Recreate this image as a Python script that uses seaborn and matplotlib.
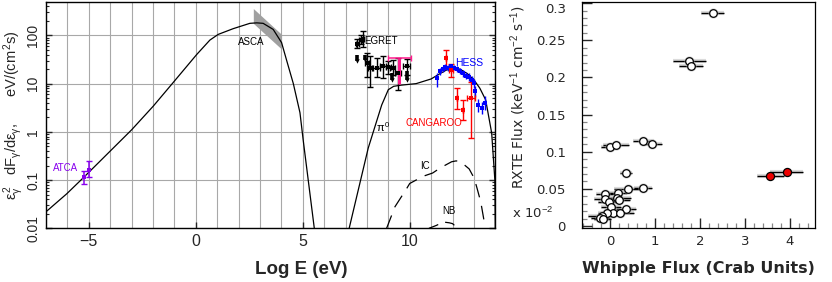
import numpy as np
import matplotlib
matplotlib.use('Agg')
import matplotlib.pyplot as plt
import seaborn as sns
from matplotlib.ticker import MultipleLocator, FixedLocator, LogLocator, NullFormatter

# ---------------------------------------------------------------
# LEFT PANEL DATA: broad-band SED (log E in eV vs E^2 dF/dE)
# ---------------------------------------------------------------
sync_x = [-7.0, -6.03, -5.21, -3.0, -1.99, -1.02, 0.04, 0.66, 1.05, 1.75,
          2.53, 2.85, 3.15, 3.62, 4.01, 4.28, 4.56, 4.87, 5.02, 5.54]
sync_y = [0.022, 0.052, 0.117, 1.1, 3.4, 11, 40, 80, 105, 138,
          178, 182, 178, 133, 71, 27, 10, 2.5, 0.68, 0.01]

pion_x = [7.17, 8.06, 8.69, 9.0, 9.25, 9.6, 10.3, 11.0, 11.35, 11.7, 12.0,
          12.35, 12.7, 13.0, 13.28, 13.55, 13.83, 13.98, 14.0]
pion_y = [0.01, 0.46, 3.6, 7.5, 8.8, 9.3, 10.0, 12.5, 15.5, 19, 20.5,
          20, 16, 12, 8, 4.6, 0.95, 0.1, 0.01]

ic_x = [8.92, 9.31, 9.86, 10.0, 10.63, 11.07, 11.44, 11.96, 12.17, 12.38,
        12.78, 13.01, 13.15, 13.28, 13.36, 13.47, 13.5]
ic_y = [0.01, 0.028, 0.067, 0.085, 0.12, 0.14, 0.18, 0.24, 0.25, 0.24,
        0.17, 0.11, 0.067, 0.041, 0.028, 0.0147, 0.01]

nb_x = [10.9, 11.25, 11.57, 11.85, 12.0, 12.3]
nb_y = [0.01, 0.0115, 0.0135, 0.013, 0.0125, 0.0095]

asca_x = [2.69, 4.01]
asca_lo = [178, 52]
asca_hi = [361, 105]

atca_x = [-5.21, -4.99]
atca_y = [0.117, 0.162]
atca_lo = [0.083, 0.117]
atca_hi = [0.155, 0.25]

egret_x = [7.55, 7.70, 7.80, 8.00, 8.15, 8.45, 8.75, 9.00, 9.20, 9.45, 9.85]
egret_y = [67, 80, 83, 27, 21, 21, 23, 22, 21, 16.5, 23]
egret_lo = [55, 65, 58, 14, 8.7, 14, 13, 16, 15, 7.5, 15]
egret_hi = [83, 100, 123, 44, 37, 34, 37, 30, 31, 34, 33]
egret_xerr = [0.08, 0.08, 0.08, 0.1, 0.1, 0.15, 0.15, 0.12, 0.12, 0.15, 0.15]

# EGRET upper limits (short thick bars)
egret_ul_x = [7.55, 7.91, 9.16, 9.86]
egret_ul_top = [40, 40, 16.6, 18]
egret_ul_bot = [30, 31, 12, 12]

pink_x = [9.52]
pink_y = [15]
pink_lo = [9.6]
pink_hi = [34]
pink_bar_x = [9.0, 10.05]
pink_bar_y = [34, 34]

hess_x = [11.29, 11.41, 11.54, 11.64, 11.8, 11.91, 12.07, 12.22, 12.35,
          12.5, 12.63, 12.78, 12.89, 13.0, 13.05, 13.2, 13.36, 13.51]
hess_y = [13.2, 18.3, 20.5, 22.5, 21.5, 23, 21.6, 20.3, 18,
          16.3, 14.7, 13.8, 12, 10.2, 6.9, 3.6, 3.1, 4.0]
hess_lo = [8.7, 15, 17.5, 19.5, 18.5, 20, 19, 17.5, 15.5,
           14, 12.5, 11.5, 9.8, 8.2, 5.2, 2.6, 2.3, 2.9]
hess_hi = [16.6, 21.5, 23.5, 25.5, 24.5, 26, 24.5, 23, 21,
           19, 17.3, 16.4, 14.5, 12.5, 9, 4.8, 4.1, 5.5]

cang_x = [11.69, 11.93, 12.19, 12.5, 12.87]
cang_y = [34, 19, 5, 2.9, 5]
cang_lo = [21, 14, 3, 1.8, 0.75]
cang_hi = [51, 26, 8, 4.6, 11]
cang_xerr = [0.0, 0.08, 0.0, 0.0, 0.18]

left_yticks = [0.01, 0.1, 1, 10, 100]
left_ylabels = ['0.01', '0.1', '1', '10', '100']
left_xticks = [-5, 0, 5, 10]

# ---------------------------------------------------------------
# RIGHT PANEL DATA: RXTE flux vs Whipple flux
# ---------------------------------------------------------------
whip_x = [2.28, 1.76, 1.80, 0.0, 0.13, 0.74, 0.93, 0.35, 0.39, 0.74,
          -0.12, -0.12, -0.02, 0.18, 0.16, 0.19, 0.02, 0.35, 0.07, 0.23,
          -0.08, -0.19, -0.22, -0.17]
whip_xerr = [0.26, 0.37, 0.26, 0.2, 0.3, 0.24, 0.23, 0.13, 0.3, 0.2,
             0.2, 0.25, 0.25, 0.2, 0.3, 0.25, 0.22, 0.22, 0.25, 0.3,
             0.2, 0.3, 0.2, 0.2]
rxte_y = [0.287, 0.222, 0.215, 0.107, 0.109, 0.114, 0.111, 0.072, 0.050, 0.051,
          0.043, 0.036, 0.033, 0.044, 0.038, 0.035, 0.025, 0.023, 0.018, 0.017,
          0.017, 0.014, 0.011, 0.010]

flare_x = [3.56, 3.93]
flare_xerr = [0.3, 0.37]
flare_y = [0.068, 0.073]

right_yticks = [0, 0.05, 0.1, 0.15, 0.2, 0.25, 0.3]
right_ylabels = ['0', '0.05', '0.1', '0.15', '0.2', '0.25', '0.3']
right_xticks = [0, 1, 2, 3, 4]

# ---------------------------------------------------------------
sns.set_style('ticks')
plt.rcParams['font.family'] = ['Liberation Sans', 'DejaVu Sans']
plt.rcParams['mathtext.fontset'] = 'custom'
plt.rcParams['mathtext.rm'] = 'Liberation Sans'
plt.rcParams['mathtext.it'] = 'Liberation Sans'
plt.rcParams['mathtext.bf'] = 'Liberation Sans:bold'

PURPLE = '#8800ee'
BLUE = '#0000ff'
RED = '#ff0000'
PINK = '#ff1a8c'
GRID = '#a8a8a8'

fig = plt.figure(figsize=(8.32, 2.82), dpi=100)
ax1 = fig.add_axes([46 / 832, 1 - 228.3 / 282, 449.3 / 832, 226.6 / 282])
ax2 = fig.add_axes([582.3 / 832, 1 - 228.3 / 282, 232.7 / 832, 226.6 / 282])

# ---------------- left panel ----------------
ax1.set_yscale('log')
ax1.set_xlim(-7, 14)
ax1.set_ylim(0.01, 500)
ax1.set_axisbelow(True)
ax1.xaxis.set_major_locator(FixedLocator(left_xticks))
ax1.xaxis.set_minor_locator(MultipleLocator(1))
ax1.yaxis.set_major_locator(FixedLocator(left_yticks))
ax1.yaxis.set_minor_locator(LogLocator(base=10, subs=np.arange(2, 10)))
ax1.yaxis.set_minor_formatter(NullFormatter())
ax1.set_yticklabels(left_ylabels)
ax1.grid(True, which='both', axis='x', color=GRID, lw=0.8)
ax1.grid(True, which='major', axis='y', color=GRID, lw=0.8)

ax1.fill_between(asca_x, asca_lo, asca_hi, color='#a0a0a0', lw=0, zorder=2)

sns.lineplot(x=sync_x, y=sync_y, ax=ax1, color='black', lw=0.9, sort=False, estimator=None, zorder=3)
sns.lineplot(x=pion_x, y=pion_y, ax=ax1, color='black', lw=0.9, sort=False, estimator=None, zorder=3)
sns.lineplot(x=ic_x, y=ic_y, ax=ax1, color='black', lw=0.9, sort=False, estimator=None,
             linestyle=(0, (11, 7)), zorder=3)
sns.lineplot(x=nb_x, y=nb_y, ax=ax1, color='black', lw=0.9, sort=False, estimator=None,
             linestyle=(0, (8, 6)), zorder=3)

# ATCA
ax1.errorbar(atca_x, atca_y, yerr=[np.subtract(atca_y, atca_lo), np.subtract(atca_hi, atca_y)],
             fmt='none', ecolor=PURPLE, elinewidth=1.1, capsize=2.2, zorder=4)
sns.scatterplot(x=atca_x, y=atca_y, ax=ax1, color=PURPLE, marker='s', s=5, linewidth=0, zorder=5)

# EGRET
ax1.errorbar(egret_x, egret_y, yerr=[np.subtract(egret_y, egret_lo), np.subtract(egret_hi, egret_y)],
             xerr=egret_xerr, fmt='none', ecolor='black', elinewidth=1.0, capsize=2.2, zorder=4)
ax1.vlines(egret_ul_x, egret_ul_bot, egret_ul_top, color='black', lw=2.6, zorder=4)
sns.scatterplot(x=egret_ul_x, y=egret_ul_bot, ax=ax1, color='black', marker='v', s=10, linewidth=0, zorder=5)
sns.scatterplot(x=egret_x, y=egret_y, ax=ax1, color='black', marker='s', s=5, linewidth=0, zorder=5)

ax1.errorbar(pink_x, pink_y, yerr=[np.subtract(pink_y, pink_lo), np.subtract(pink_hi, pink_y)],
             fmt='none', ecolor=PINK, elinewidth=2.2, capsize=0, zorder=4)
ax1.errorbar([np.mean(pink_bar_x)], [pink_bar_y[0]], xerr=[(pink_bar_x[1] - pink_bar_x[0]) / 2],
             fmt='none', ecolor=PINK, elinewidth=1.1, capsize=2.5, zorder=4)

# HESS
ax1.errorbar(hess_x, hess_y, yerr=[np.subtract(hess_y, hess_lo), np.subtract(hess_hi, hess_y)],
             fmt='none', ecolor=BLUE, elinewidth=1.0, capsize=0, zorder=4)
sns.scatterplot(x=hess_x, y=hess_y, ax=ax1, color=BLUE, marker='s', s=9, linewidth=0, zorder=5)

# CANGAROO
ax1.errorbar(cang_x, cang_y, yerr=[np.subtract(cang_y, cang_lo), np.subtract(cang_hi, cang_y)],
             xerr=cang_xerr, fmt='none', ecolor=RED, elinewidth=1.0, capsize=2.2, zorder=4)
sns.scatterplot(x=cang_x, y=cang_y, ax=ax1, color=RED, marker='s', s=5, linewidth=0, zorder=5)

lab = dict(fontsize=7, ha='center', va='center', zorder=6)
ax1.text(-6.08, 0.18, 'ATCA', color=PURPLE, **lab)
ax1.text(2.57, 74, 'ASCA', color='black', **lab)
ax1.text(8.65, 76, 'EGRET', color='black', **lab)
ax1.text(8.75, 1.25, r'$\pi^{0}$', color='black', fontsize=8, ha='center', va='center')
ax1.text(12.8, 27, 'HESS', color=BLUE, fontsize=7.5, ha='center', va='center', zorder=6)
ax1.text(11.13, 1.5, 'CANGAROO', color=RED, **lab)
ax1.text(10.69, 0.195, 'IC', color='black', **lab)
ax1.text(11.84, 0.023, 'NB', color='black', **lab)

ax1.tick_params(axis='both', which='major', direction='in', length=4, width=1,
                right=True, top=False, labelsize=11.5, pad=4)
ax1.tick_params(axis='y', which='minor', direction='in', length=2.2, width=0.8, right=True)
ax1.tick_params(axis='x', which='minor', length=0)
for t in ax1.get_yticklabels():
    t.set_rotation(90)
    t.set_va('center')
    t.set_fontsize(10)
for s in ax1.spines.values():
    s.set_linewidth(1.0)
    s.set_color('black')

ax1.set_xlabel('Log E (eV)', fontsize=13.5, fontweight='bold')
ax1.xaxis.set_label_coords(0.569, -0.145)
ax1.set_ylabel(r'$\varepsilon_{\gamma}^{2}\ \ \ dF_{\gamma}/d\varepsilon_{\gamma},\ \ \ \ \ \ eV/(cm^{2}s)$',
               fontsize=10.5)
ax1.yaxis.set_label_coords(-0.044, 0.5)

# ---------------- right panel ----------------
ax2.set_xlim(-0.62, 4.56)
ax2.set_ylim(-0.003, 0.302)

# soft grey halo under the marks
ax2.errorbar(whip_x, rxte_y, xerr=whip_xerr, fmt='none', ecolor='#9a9a9a', elinewidth=3, alpha=0.35, zorder=2)
ax2.errorbar(flare_x, flare_y, xerr=flare_xerr, fmt='none', ecolor='#9a9a9a', elinewidth=3, alpha=0.35, zorder=2)
ax2.errorbar(whip_x, rxte_y, xerr=whip_xerr, fmt='none', ecolor='black', elinewidth=1.0, capsize=0, zorder=3)
ax2.errorbar(flare_x, flare_y, xerr=flare_xerr, fmt='none', ecolor='black', elinewidth=1.0, capsize=0, zorder=3)
sns.scatterplot(x=whip_x, y=rxte_y, ax=ax2, s=55, color='#b0b0b0', alpha=0.5, linewidth=0, zorder=3.5)
sns.scatterplot(x=whip_x, y=rxte_y, ax=ax2, s=30, color='white', edgecolor='black', linewidth=0.9, zorder=4)
sns.scatterplot(x=flare_x, y=flare_y, ax=ax2, s=34, color='#ee0000', edgecolor='black', linewidth=0.9, zorder=4)

ax2.xaxis.set_major_locator(FixedLocator(right_xticks))
ax2.xaxis.set_minor_locator(MultipleLocator(0.2))
ax2.yaxis.set_major_locator(FixedLocator(right_yticks))
ax2.yaxis.set_minor_locator(MultipleLocator(0.01))
ax2.set_yticklabels(right_ylabels)
ax2.set_xticklabels([str(v) for v in right_xticks])
ax2.tick_params(axis='both', which='major', direction='in', length=7, width=1,
                top=False, right=False, labelsize=9.5)
ax2.tick_params(axis='y', which='major', pad=12)
ax2.tick_params(axis='x', which='major', pad=5)
ax2.tick_params(axis='both', which='minor', direction='in', length=3.5, width=0.9,
                color='#888888', top=False, right=False)
for t in ax2.get_xticklabels() + ax2.get_yticklabels():
    t.set_fontfamily('DejaVu Sans')
# the top label sits just inside the picture, below its tick
ax2.get_yticklabels()[-1].set_va('top')

for s in ax2.spines.values():
    s.set_linewidth(0.9)
    s.set_color('black')

ax2.set_xlabel('Whipple Flux (Crab Units)', fontsize=11.5, fontweight='bold', family='DejaVu Sans')
ax2.xaxis.set_label_coords(0.5, -0.145)
ax2.set_ylabel(r'RXTE Flux (keV$^{-1}$ cm$^{-2}$ s$^{-1}$)', fontsize=10, family='DejaVu Sans')
ax2.yaxis.set_label_coords(-0.235, 0.58)
fig.text(512 / 832, 1 - 213 / 282, r'x 10$^{-2}$', fontsize=9.5, family='DejaVu Sans', va='center')

fig.savefig('out.png', dpi=100)
